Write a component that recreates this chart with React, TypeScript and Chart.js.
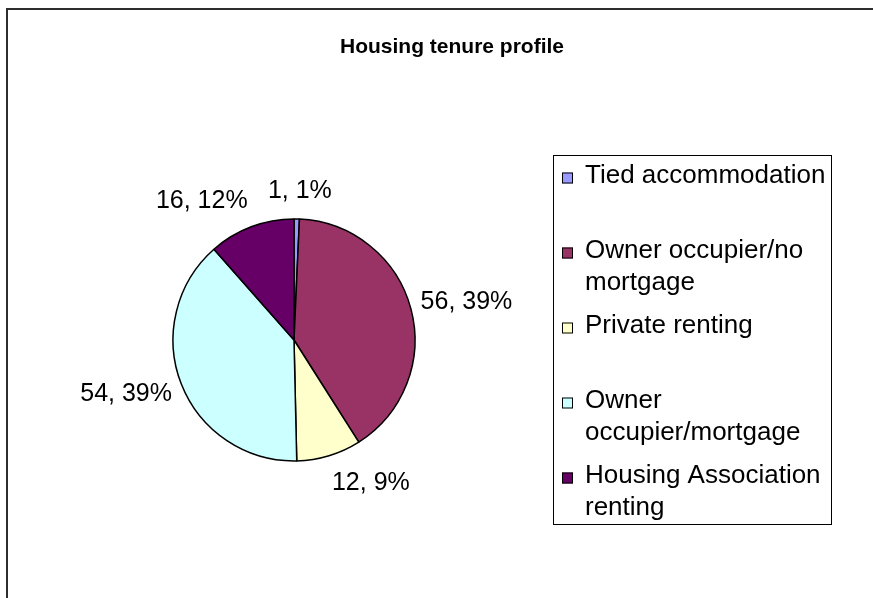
import React, { useEffect, useRef } from "react";
import { Chart, registerables } from "chart.js";

Chart.register(...registerables);

const categories = [
  "Tied accommodation",
  "Owner occupier/no mortgage",
  "Private renting",
  "Owner occupier/mortgage",
  "Housing Association renting",
];
const values = [1, 56, 12, 54, 16];
const percentLabels = [1, 39, 9, 39, 12];
const colors = ["#9999FF", "#993366", "#FFFFCC", "#CCFFFF", "#660066"];
const chartTitle = "Housing tenure profile";

const FONT = '"Liberation Sans", Arial, sans-serif';

function wrapText(ctx: CanvasRenderingContext2D, text: string, maxW: number): string[] {
  const words = text.split(" ");
  const lines: string[] = [];
  let cur = "";
  for (const w of words) {
    const test = cur ? cur + " " + w : w;
    if (ctx.measureText(test).width > maxW && cur) {
      lines.push(cur);
      cur = w;
    } else cur = test;
  }
  if (cur) lines.push(cur);
  return lines;
}

const decorPlugin = {
  id: "decor",
  afterDraw(chart: any) {
    const ctx: CanvasRenderingContext2D = chart.ctx;
    ctx.save();
    // Title
    ctx.fillStyle = "#000";
    ctx.font = `bold 21px ${FONT}`;
    ctx.textAlign = "center";
    ctx.textBaseline = "middle";
    ctx.fillText(chartTitle, chart.width / 2, 37);

    // Data labels
    const meta = chart.getDatasetMeta(0);
    ctx.font = `25px ${FONT}`;
    meta.data.forEach((arc: any, i: number) => {
      const p = arc.getProps(["x", "y", "startAngle", "endAngle", "outerRadius"], true);
      const mid = (p.startAngle + p.endAngle) / 2;
      const dx = Math.cos(mid);
      const dy = Math.sin(mid);
      const txt = `${values[i]}, ${percentLabels[i]}%`;
      const hw = ctx.measureText(txt).width / 2;
      const R = p.outerRadius + 10;
      const cx = p.x + dx * R + Math.sign(dx) * hw * Math.min(1, 4 * Math.abs(dx));
      const cy = p.y + dy * R + dy * 18;
      ctx.textAlign = "center";
      ctx.textBaseline = "middle";
      ctx.fillText(txt, cx, cy);
    });

    // Legend
    const lx = 545, ly = 145, lw = 278, lh = 369;
    ctx.fillStyle = "#fff";
    ctx.fillRect(lx, ly, lw, lh);
    ctx.strokeStyle = "#000";
    ctx.lineWidth = 1;
    ctx.strokeRect(lx + 0.5, ly + 0.5, lw, lh);
    ctx.font = `26px ${FONT}`;
    ctx.textAlign = "left";
    ctx.textBaseline = "middle";
    categories.forEach((label, i) => {
      const yTop = 166 + i * 75;
      ctx.fillStyle = colors[i];
      ctx.fillRect(554, yTop + 2 - 5.5, 11, 11);
      ctx.strokeStyle = "#000";
      ctx.strokeRect(554.5, yTop + 2 - 5.5 + 0.5, 10, 10);
      ctx.fillStyle = "#000";
      const lines = wrapText(ctx, label, 250);
      lines.forEach((ln, j) => ctx.fillText(ln, 577, yTop + j * 32));
    });
    ctx.restore();
  },
};

export default function App() {
  const ref = useRef<HTMLCanvasElement | null>(null);
  useEffect(() => {
    if (!ref.current) return;
    const chart = new Chart(ref.current, {
      type: "pie",
      data: {
        labels: categories,
        datasets: [
          {
            data: values,
            backgroundColor: colors,
            borderColor: "#000",
            borderWidth: 1.5,
            hoverOffset: 0,
            radius: 121,
          },
        ],
      },
      options: {
        responsive: false,
        animation: false,
        devicePixelRatio: 1,
        layout: { padding: { left: 164, right: 480, top: 208, bottom: 168 } },
        plugins: {
          legend: { display: false },
          title: { display: false },
          tooltip: { enabled: false },
        },
      },
      plugins: [decorPlugin],
    });
    return () => chart.destroy();
  }, []);

  return (
    <div style={{ position: "fixed", left: 0, top: 0, width: 873, height: 598, overflow: "hidden", background: "#fff" }}>
      <div
        style={{
          position: "absolute",
          left: 6,
          top: 8,
          width: 888,
          height: 620,
          borderLeft: "2px solid #2e2e2e",
          borderTop: "2px solid #2e2e2e",
          background: "#fff",
        }}
      >
        <canvas ref={ref} width={888} height={620} style={{ display: "block", width: 888, height: 620 }} />
      </div>
    </div>
  );
}
